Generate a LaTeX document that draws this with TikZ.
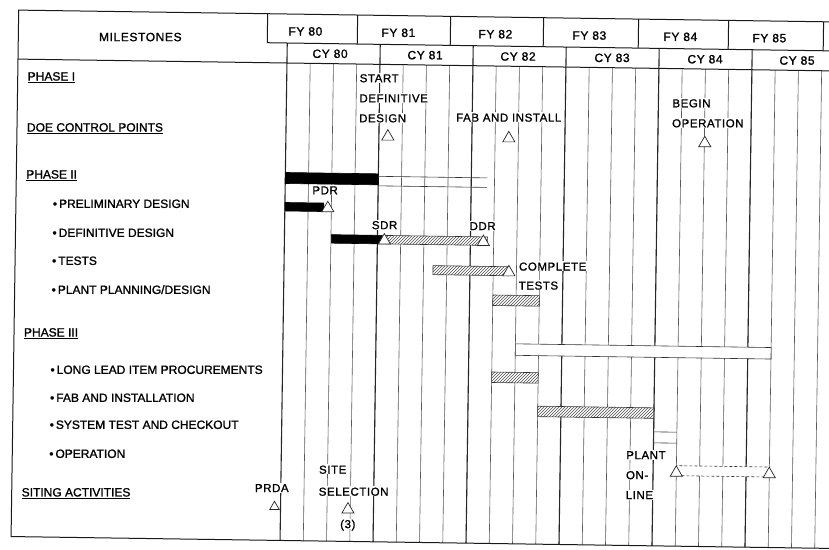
\documentclass[tikz,border=0pt]{standalone}
\usepackage{fontspec}
\setmainfont[FakeBold=1.2]{Liberation Sans}
\newfontfamily\chartfont[LetterSpace=5,FakeBold=1.2]{Liberation Sans}
\usetikzlibrary{patterns,shapes.geometric}
\begin{document}
\begin{tikzpicture}[x=1pt,y=-1pt,
  rowlbl/.style={anchor=west, inner sep=0.8pt, text height=8.6pt, text depth=0pt, font=\fontsize{12}{14}\selectfont},
  chartlbl/.style={inner sep=0.8pt, text height=8.4pt, text depth=0pt, font=\chartfont\fontsize{11.5}{13}\selectfont, fill=white},
  hdrlbl/.style={inner sep=0.8pt, text height=8.6pt, text depth=0pt, font=\chartfont\fontsize{12}{14}\selectfont},
  framel/.style={line width=1pt, black!90},
  qline/.style={line width=0.6pt, black!65},
  yline/.style={line width=1.1pt, black!85},
  solidbar/.style={fill=black, draw=black, line width=0.6pt},
  hatchbar/.style={draw=black!80, line width=0.6pt, preaction={fill=white}, pattern=north east lines, pattern color=black!70},
  openbar/.style={draw=black!80, line width=0.6pt, fill=white},
  barline/.style={draw=black!80, line width=0.6pt},
  dashbar/.style={draw=black!80, line width=0.6pt, densely dashed, fill=white},
  tri/.style={regular polygon, regular polygon sides=3, minimum size=14pt, inner sep=0pt, draw=black!85, line width=0.7pt, fill=white, anchor=side 2},
  smalltri/.style={tri, minimum size=11pt}
]
\useasboundingbox (0,0) rectangle (829,549);
\fill[white] (0,0) rectangle (829,549);
\begin{scope}[rotate around={-0.83:(287,60)}]
% quarter grid lines
\foreach \k in {1,...,23}{\draw[qline] ({287+23.25*\k},63) -- ({287+23.25*\k},540.5);}
% year lines
\foreach \k in {0,4,8,12,16,20}{\draw[yline] ({287+23.25*\k},43) -- ({287+23.25*\k},540.5);}
% frame and header
\draw[framel] (840,14) -- (18,14) -- (18,540.5) -- (840,540.5);
\draw[framel] (267,14) -- (267,43) -- (840,43);
\draw[framel] (18,63) -- (840,63);
\foreach \x in {357,450,543,638,728,823}{\draw[framel] (\x,14) -- (\x,43);}

\node[hdrlbl] (ms) at (140,39) {MILESTONES};
\node[hdrlbl] (fy80) at (305,31) {FY 80};
\node[hdrlbl] (fy81) at (398,31) {FY 81};
\node[hdrlbl] (fy82) at (495,31) {FY 82};
\node[hdrlbl] (fy83) at (589,31) {FY 83};
\node[hdrlbl] (fy84) at (680,31) {FY 84};
\node[hdrlbl] (fy85) at (769,31) {FY 85};
\node[hdrlbl] (cy80) at (330,53) {CY 80};
\node[hdrlbl] (cy81) at (425,53) {CY 81};
\node[hdrlbl] (cy82) at (518,53) {CY 82};
\node[hdrlbl] (cy83) at (612,53) {CY 83};
\node[hdrlbl] (cy84) at (705,53) {CY 84};
\node[hdrlbl] (cy85) at (797,53) {CY 85};

% row labels
\node[rowlbl] (r1) at (27,80) {\underline{PHASE I}};
\node[rowlbl] (r2) at (27,131) {\underline{DOE CONTROL POINTS}};
\node[rowlbl] (r3) at (27,178) {\underline{PHASE II}};
\node[rowlbl] (r4) at (54,207) {\textbullet\,PRELIMINARY DESIGN};
\node[rowlbl] (r5) at (54,236) {\textbullet\,DEFINITIVE DESIGN};
\node[rowlbl] (r6) at (54,264) {\textbullet\,TESTS};
\node[rowlbl] (r7) at (54,293) {\textbullet\,PLANT PLANNING/DESIGN};
\node[rowlbl] (r8) at (27,336) {\underline{PHASE III}};
\node[rowlbl] (r9) at (54,373) {\textbullet\,LONG LEAD ITEM PROCUREMENTS};
\node[rowlbl] (r10) at (54,401) {\textbullet\,FAB AND INSTALLATION};
\node[rowlbl] (r11) at (54,428) {\textbullet\,SYSTEM TEST AND CHECKOUT};
\node[rowlbl] (r12) at (54,457) {\textbullet\,OPERATION};
\node[rowlbl] (r13) at (27,496) {\underline{SITING ACTIVITIES}};

% DOE control points
\node[chartlbl, anchor=west] (sd1) at (359,77) {START};
\node[chartlbl, anchor=west] (sd2) at (359,97) {DEFINITIVE};
\node[chartlbl, anchor=west] (sd3) at (359,117) {DESIGN};
\node[tri] (tsd) at (389,139) {};
\node[chartlbl, anchor=west] (fi) at (456,115) {FAB AND INSTALL};
\node[tri] (tfi) at (510,139) {};
\node[chartlbl, anchor=west] (bo1) at (672,97.5) {BEGIN};
\node[chartlbl, anchor=west] (bo2) at (672,117.5) {OPERATION};
\node[tri] (tbo) at (706,141) {};

% Phase II
\draw[solidbar] (287,172.5) rectangle (380,183.5);
\draw[barline] (380,175) -- (489,175);
\draw[barline] (380,184.5) -- (489,184.5);
% preliminary design
\draw[solidbar] (287,202.5) rectangle (326,211);
\node[tri] (tpdr) at (330,211.5) {};
\node[chartlbl] (pdr) at (327,189.5) {PDR};
% definitive design
\draw[hatchbar] (384,234) rectangle (490,242.5);
\draw[solidbar] (334,234) rectangle (384,242.5);
\node[tri] (tsdr) at (387,243) {};
\node[tri] (tddr) at (486,243) {};
\node[chartlbl] (sdr) at (387,223.5) {SDR};
\node[chartlbl] (ddr) at (485,223) {DDR};
% tests
\draw[hatchbar] (436,263.5) rectangle (512,272.5);
\node[tri] (tct) at (512,273) {};
\node[chartlbl, anchor=west] (ct1) at (521,263) {COMPLETE};
\node[chartlbl, anchor=west] (ct2) at (521,282) {TESTS};
% plant planning
\draw[hatchbar] (496.25,292) rectangle (542.75,302.5);
% long lead
\draw[openbar] (519.5,340.5) rectangle (775.25,352);
% fab and installation
\draw[hatchbar] (496.25,369) rectangle (542.75,379.5);
% system test
\draw[hatchbar] (542.75,402.5) rectangle (659,413);
\draw[barline] (659,402.5) -- (659,437.5);
\draw[barline] (659,426.5) -- (682.25,426.5);
\draw[barline] (659,437.5) -- (682.25,437.5);
% operation
\draw[dashbar] (682.25,460) rectangle (775.25,470);
\node[tri] (top1) at (682.25,471) {};
\node[tri] (top2) at (775.25,471) {};
\node[chartlbl, anchor=west] (po1) at (631,450) {PLANT};
\node[chartlbl, anchor=west] (po2) at (631,470) {ON-};
\node[chartlbl, anchor=west] (po3) at (631,490) {LINE};

% siting
\node[chartlbl] (prda) at (278,488) {PRDA};
\node[smalltri] (tprda) at (281,510) {};
\node[chartlbl, anchor=west] (ss1) at (324,469) {SITE};
\node[chartlbl, anchor=west] (ss2) at (324,491) {SELECTION};
\node[tri] (tss) at (354.5,512.5) {};
\node[chartlbl] (ss3) at (354.5,523) {(3)};
\end{scope}
\end{tikzpicture}
\end{document}
